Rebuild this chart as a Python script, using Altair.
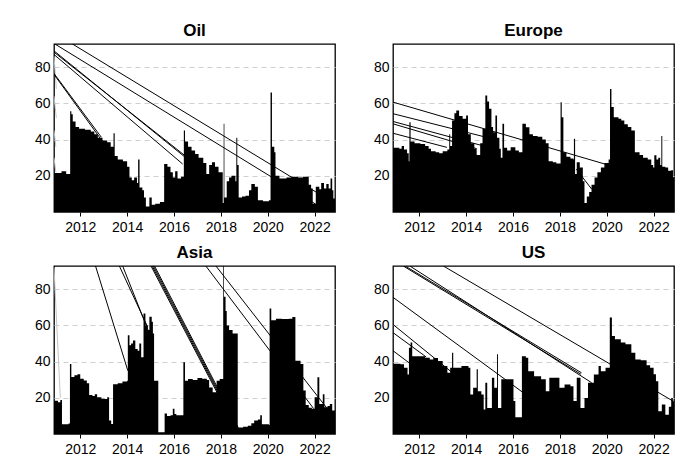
import altair as alt
import pandas as pd

X_MIN, X_MAX = 2010.88, 2022.87
Y_MAX = 92.8
X_TICKS = [2012, 2014, 2016, 2018, 2020, 2022]
Y_TICKS = [20, 40, 60, 80]
FONT = "Liberation Sans"

# ---- Oil: step series (year, value) ----
oil_t = [2010.88, 2011.20, 2011.40, 2011.57, 2011.62, 2011.68, 2011.80, 2011.95, 2012.20, 2012.45,
         2012.60, 2012.75, 2012.95, 2013.15, 2013.30, 2013.42, 2013.47, 2013.60, 2013.82, 2014.00,
         2014.10, 2014.20, 2014.30, 2014.42, 2014.47, 2014.53, 2014.65, 2014.72, 2014.80, 2014.95,
         2015.05, 2015.20, 2015.40, 2015.58, 2015.72, 2015.85, 2015.95, 2016.05, 2016.15, 2016.30,
         2016.42, 2016.47, 2016.60, 2016.75, 2016.90, 2017.05, 2017.25, 2017.38, 2017.50, 2017.62,
         2017.75, 2017.90, 2018.08, 2018.12, 2018.15, 2018.25, 2018.35, 2018.45, 2018.62, 2018.66,
         2018.70, 2018.76, 2018.90, 2019.05, 2019.20, 2019.30, 2019.45, 2019.58, 2019.80, 2020.05,
         2020.12, 2020.18, 2020.28, 2020.33, 2020.50, 2020.80, 2021.00, 2021.30, 2021.50, 2021.75,
         2021.85, 2021.92, 2022.05, 2022.20, 2022.28, 2022.40, 2022.50, 2022.60, 2022.68, 2022.75,
         2022.80, 2022.87]
oil_v = [21.5, 22.5, 21, 55.7, 54, 50, 47, 46, 45.5, 44.5,
         43, 41, 39.5, 38.5, 36, 43.5, 31, 29, 28, 25,
         19, 17.5, 19, 16, 29, 13.5, 12, 8, 3, 8,
         4, 4.5, 5.5, 26.5, 25, 22, 19, 22.5, 18.5, 19.5,
         45, 39, 36, 34, 32, 30, 27, 21, 26, 27.5,
         25, 22, 5, 48.7, 8, 17, 19, 20, 17, 41,
         26, 8, 8.5, 9, 12, 15.5, 14, 6.5, 6, 6.5,
         66, 36, 33, 20, 18.5, 19, 19.5, 19, 19.5, 15,
         13, 4.5, 14, 12.5, 16, 13, 15.5, 13, 18.5, 12,
         7.5, 7.5]

# ---- Europe ----
eu_t = [2010.88, 2011.15, 2011.25, 2011.35, 2011.48, 2011.55, 2011.58, 2011.63, 2011.80, 2012.05,
        2012.25, 2012.40, 2012.50, 2012.70, 2012.85, 2013.00, 2013.20, 2013.28, 2013.32, 2013.40,
        2013.50, 2013.58, 2013.70, 2013.85, 2014.00, 2014.08, 2014.20, 2014.35, 2014.45, 2014.60,
        2014.70, 2014.82, 2014.90, 2014.98, 2015.08, 2015.15, 2015.25, 2015.32, 2015.42, 2015.48,
        2015.55, 2015.62, 2015.75, 2015.90, 2016.10, 2016.25, 2016.40, 2016.55, 2016.70, 2016.85,
        2017.05, 2017.25, 2017.40, 2017.52, 2017.70, 2017.85, 2018.03, 2018.08, 2018.15, 2018.28,
        2018.45, 2018.58, 2018.60, 2018.65, 2018.72, 2018.85, 2018.98, 2019.05, 2019.15, 2019.25,
        2019.35, 2019.48, 2019.60, 2019.75, 2019.90, 2020.08, 2020.14, 2020.20, 2020.30, 2020.50,
        2020.62, 2020.75, 2020.90, 2021.05, 2021.20, 2021.40, 2021.55, 2021.75, 2021.90, 2021.98,
        2022.03, 2022.12, 2022.20, 2022.28, 2022.33, 2022.37, 2022.50, 2022.62, 2022.75, 2022.83,
        2022.87]
eu_v = [35.5, 35, 36.5, 34.5, 32.5, 28, 49.6, 39, 38, 37.5,
        36.5, 35, 33.5, 33, 32.5, 33.5, 34.5, 43, 36.5, 50.5,
        54.5, 56, 53, 51.5, 53.3, 43, 38, 35, 31.5, 38,
        46, 64.4, 61, 57, 47, 44, 53.3, 41, 35, 30,
        48.7, 35.5, 34, 35.7, 34, 33, 48.7, 46.8, 43, 42,
        41.5, 40, 38, 28, 27.5, 26.8, 60.6, 52.4, 33, 30.5,
        29.6, 29, 40.4, 21, 27.5, 24.6, 17, 5, 8.5, 11,
        15, 19, 22, 24.6, 27, 29, 68, 58, 52.4, 51.5,
        50.5, 48.5, 47, 45, 33, 31.5, 30, 29, 26, 24.6,
        31.3, 29, 30, 26, 42, 25, 24.6, 22.8, 23, 19.2,
        19.2]

# ---- Asia ----
asia_t = [2010.88, 2011.05, 2011.15, 2011.22, 2011.50, 2011.56, 2011.62, 2011.75, 2011.88, 2012.00,
          2012.15, 2012.28, 2012.38, 2012.52, 2012.62, 2012.72, 2012.90, 2013.05, 2013.15, 2013.23,
          2013.32, 2013.40, 2013.60, 2013.80, 2014.00, 2014.03, 2014.10, 2014.17, 2014.25, 2014.35,
          2014.45, 2014.52, 2014.60, 2014.70, 2014.78, 2014.88, 2014.95, 2015.05, 2015.10, 2015.15,
          2015.33, 2015.60, 2015.70, 2015.85, 2015.95, 2016.02, 2016.10, 2016.40, 2016.47, 2016.60,
          2016.80, 2017.00, 2017.20, 2017.40, 2017.50, 2017.65, 2017.82, 2017.95, 2018.10, 2018.13,
          2018.20, 2018.25, 2018.35, 2018.50, 2018.72, 2018.95, 2019.15, 2019.30, 2019.42, 2019.58,
          2019.68, 2019.75, 2020.05, 2020.08, 2020.15, 2020.35, 2020.60, 2020.90, 2021.05, 2021.18,
          2021.40, 2021.52, 2021.62, 2021.75, 2021.88, 2022.00, 2022.12, 2022.20, 2022.35, 2022.42,
          2022.55, 2022.65, 2022.75, 2022.87]
asia_v = [18.3, 17.5, 18.8, 5.4, 5.8, 38.7, 31.5, 32.5, 33, 30.5,
          29.5, 28, 21.5, 21, 22, 20.3, 19.5, 19.3, 20.3, 7.4,
          5.5, 27.5, 28, 29, 29.4, 54.5, 49, 50, 51.7, 47,
          46, 50, 42.4, 66.5, 60, 57.4, 64.8, 62, 55.5, 29.4,
          1, 11.3, 10, 10.4, 14, 11, 10.4, 39.6, 29.4, 30.4,
          29.8, 31, 30.5, 29.8, 25.7, 23, 29.4, 30.4, 92.8, 75.8,
          68, 60, 57.4, 55.5, 3.6, 4, 4.6, 6, 7.4, 8,
          10.4, 5.4, 5, 69.3, 62.8, 63.7, 63.5, 63.7, 64.6, 40.5,
          38.7, 24, 16, 14.5, 13.9, 20.3, 31.3, 16.6, 22, 14.8,
          15.5, 16.6, 13, 13]

# ---- US ----
us_t = [2010.88, 2011.20, 2011.35, 2011.50, 2011.56, 2011.63, 2011.70, 2012.00, 2012.25, 2012.45,
        2012.60, 2012.80, 2013.00, 2013.20, 2013.32, 2013.40, 2013.45, 2013.80, 2014.10, 2014.18,
        2014.30, 2014.45, 2014.50, 2014.65, 2014.75, 2014.82, 2014.90, 2015.10, 2015.20, 2015.32,
        2015.36, 2015.50, 2015.95, 2016.02, 2016.10, 2016.38, 2016.55, 2016.65, 2016.90, 2017.20,
        2017.40, 2017.55, 2017.80, 2017.98, 2018.20, 2018.45, 2018.58, 2018.72, 2018.88, 2019.05,
        2019.20, 2019.45, 2019.65, 2019.75, 2019.95, 2020.13, 2020.22, 2020.35, 2020.60, 2020.80,
        2021.05, 2021.22, 2021.45, 2021.70, 2021.85, 2022.00, 2022.10, 2022.20, 2022.35, 2022.50,
        2022.65, 2022.75, 2022.82, 2022.87]
us_v = [38.8, 38.5, 36.6, 32.9, 47.7, 50.5, 43, 43, 42.1, 41.2,
        42, 40.3, 37.5, 33.8, 36.6, 44.9, 36.6, 37.5, 36.6, 21.8,
        25.5, 35.7, 23.6, 21.8, 13.5, 28.3, 14.4, 31.1, 25.5, 44,
        14.4, 30.2, 30.2, 18.2, 9.3, 43, 42.1, 34.7, 31.9, 30.2,
        23.6, 31.1, 31.1, 25.5, 27.3, 26.4, 18.2, 31.1, 14.4, 19.9,
        28.3, 32.9, 37.5, 34.7, 36.6, 64.3, 54.2, 52.3, 50.5, 49.6,
        44.9, 41.2, 40.7, 38, 36.6, 33, 29.2, 12.6, 16.3, 10.7,
        15, 19.9, 18, 18]

# ---- stray connecting lines (x1, y1, x2, y2) ----
oil_lines = [(2010.88, 99.0, 2022.10, 10.7), (2010.88, 93.1, 2022.04, 4.4),
             (2010.88, 89.0, 2016.50, 30.0), (2010.88, 88.3, 2016.48, 31.0),
             (2010.88, 87.0, 2016.37, 26.5), (2010.88, 76.5, 2012.90, 41.3),
             (2010.88, 76.0, 2012.95, 39.0)]
oil_gray = [(2010.88, 86, 2010.98, 68), (2010.88, 64, 2010.98, 52),
            (2010.88, 45, 2010.96, 36), (2010.88, 30, 2010.96, 22)]
eu_lines = [(2010.88, 60.7, 2020.05, 26.0), (2010.88, 54.3, 2014.73, 41.7),
            (2010.88, 50.0, 2014.68, 36.7), (2010.88, 48.7, 2014.45, 35.0),
            (2010.88, 43.5, 2013.18, 35.7), (2018.70, 23.7, 2019.36, 12.6)]
eu_gray = []
asia_lines = [(2012.60, 95.0, 2014.03, 35.0), (2013.67, 92.8, 2014.88, 59.0),
              (2013.81, 92.8, 2014.95, 55.5), (2015.02, 92.8, 2018.72, 1.0),
              (2015.07, 92.8, 2018.76, 1.0), (2015.12, 92.8, 2018.80, 1.0),
              (2015.17, 92.8, 2018.84, 1.0), (2017.36, 92.8, 2021.96, 14.0),
              (2017.79, 92.8, 2022.60, 13.0)]
asia_gray = [(2010.88, 92, 2011.15, 20)]
us_lines = [(2010.88, 75.5, 2016.44, 22.8), (2010.88, 60.5, 2013.40, 34.0),
            (2010.88, 56.0, 2012.30, 42.5), (2010.88, 46.0, 2011.60, 39.0),
            (2011.32, 92.8, 2018.90, 33.0), (2011.40, 92.8, 2018.92, 33.8),
            (2011.60, 92.8, 2019.36, 28.3), (2013.03, 92.8, 2022.85, 18.0)]
us_gray = []

xscale = alt.Scale(domain=[X_MIN, X_MAX], nice=False, zero=False)
yscale = alt.Scale(domain=[0, Y_MAX], nice=False, zero=False)
xaxis = alt.Axis(values=X_TICKS, format="d", title=None, grid=False, domain=False,
                 ticks=True, tickSize=4, tickColor="black", labelFontSize=14,
                 labelColor="black", labelFont=FONT, labelPadding=4)
yaxis = alt.Axis(values=Y_TICKS, title=None, grid=True, gridDash=[5, 4],
                 gridColor="#cfcfcf", gridWidth=1, domain=False, ticks=False,
                 labelFontSize=14, labelColor="black", labelFont=FONT,
                 labelPadding=4, minExtent=40, maxExtent=40)


def panel(name, t, v, lines, gray):
    df = pd.DataFrame({"t": t, "v": v})
    area = alt.Chart(df).mark_area(interpolate="step-after", color="black",
                                   clip=True).encode(
        x=alt.X("t:Q", scale=xscale, axis=xaxis),
        y=alt.Y("v:Q", scale=yscale, axis=yaxis),
    )
    layers = [area]
    if gray:
        gdf = pd.DataFrame(gray, columns=["x1", "y1", "x2", "y2"])
        layers.append(alt.Chart(gdf).mark_rule(color="#c4c4c4", strokeWidth=1,
                                               clip=True).encode(
            x=alt.X("x1:Q", scale=xscale, axis=xaxis),
            y=alt.Y("y1:Q", scale=yscale, axis=yaxis),
            x2="x2:Q", y2="y2:Q"))
    ldf = pd.DataFrame(lines, columns=["x1", "y1", "x2", "y2"])
    layers.append(alt.Chart(ldf).mark_rule(color="black", strokeWidth=1,
                                           clip=True).encode(
        x=alt.X("x1:Q", scale=xscale, axis=xaxis),
        y=alt.Y("y1:Q", scale=yscale, axis=yaxis),
        x2="x2:Q", y2="y2:Q"))
    return alt.layer(*layers).properties(
        width=281, height=168,
        title=alt.TitleParams(name, fontSize=17, fontWeight="bold", font=FONT,
                              color="black", anchor="middle", offset=4),
    )


oil = panel("Oil", oil_t, oil_v, oil_lines, oil_gray)
eu = panel("Europe", eu_t, eu_v, eu_lines, eu_gray)
asia = panel("Asia", asia_t, asia_v, asia_lines, asia_gray)
us = panel("US", us_t, us_v, us_lines, us_gray)

chart = alt.vconcat(
    alt.hconcat(oil, eu, spacing=16),
    alt.hconcat(asia, us, spacing=16),
    spacing=8,
).properties(
    padding={"left": 5, "top": 13, "right": 5, "bottom": 5},
    background="white",
).configure_view(stroke="black", strokeWidth=1.3)

chart.save("out.html", embed_options={"renderer": "svg", "actions": False})
